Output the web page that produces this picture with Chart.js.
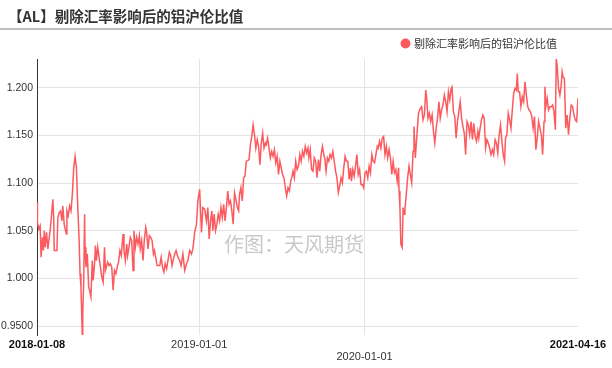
<!DOCTYPE html>
<html>
<head>
<meta charset="utf-8">
<script src="https://cdn.jsdelivr.net/npm/chart.js@4.4.1/dist/chart.umd.min.js"></script>
<style>
  html, body { margin: 0; padding: 0; background: #fff; }
  #wrap { width: 612px; height: 368px; }
</style>
</head>
<body>
<div id="wrap"><canvas id="alChart" width="612" height="368"></canvas></div>
<script>
// 日期偏移（自 2018-01-08 起的天数）与比值
const START_DATE = "2018-01-08";
const dayOffsets = [
  0, 1, 4, 7, 9, 12, 14, 16, 18, 21, 24, 27, 29, 31, 35, 37, 38, 44, 46, 49,
  52, 55, 57, 60, 63, 65, 66, 69, 72, 75, 78, 81, 84, 87, 90, 93, 95, 97, 100, 101,
  103, 105, 106, 108, 111, 114, 116, 119, 122, 124, 127, 129, 131, 134, 137, 140, 143, 146, 149, 151,
  153, 156, 159, 162, 165, 168, 171, 174, 177, 180, 183, 186, 188, 190, 192, 195, 198, 200, 203, 206,
  209, 212, 214, 217, 220, 223, 226, 228, 231, 234, 237, 240, 242, 245, 248, 251, 254, 257, 259, 262,
  265, 271, 274, 277, 280, 283, 286, 289, 292, 295, 298, 301, 304, 307, 311, 315, 318, 322, 326, 330,
  333, 337, 341, 344, 348, 352, 355, 359, 363, 366, 370, 374, 377, 380, 383, 386, 388, 391, 394, 397,
  400, 403, 406, 409, 412, 415, 418, 421, 424, 427, 430, 433, 436, 439, 442, 445, 447, 450, 453, 456,
  459, 462, 465, 468, 471, 474, 477, 480, 483, 486, 489, 492, 495, 498, 501, 504, 506, 509, 512, 515,
  518, 521, 524, 527, 530, 533, 536, 539, 542, 545, 548, 551, 554, 557, 560, 563, 565, 568, 571, 574,
  577, 580, 583, 586, 589, 592, 595, 598, 600, 603, 606, 609, 612, 615, 618, 621, 624, 627, 630, 633,
  635, 638, 641, 644, 647, 650, 653, 656, 659, 662, 665, 668, 671, 674, 677, 680, 683, 686, 689, 692,
  694, 697, 700, 703, 706, 709, 712, 715, 718, 721, 724, 727, 730, 733, 736, 739, 742, 745, 748, 751,
  753, 756, 759, 762, 765, 768, 771, 774, 777, 780, 783, 786, 789, 792, 795, 798, 799, 801, 803, 806,
  808, 810, 812, 815, 818, 821, 824, 827, 830, 832, 835, 838, 842, 846, 849, 852, 855, 858, 860, 863,
  866, 869, 872, 875, 878, 881, 884, 887, 890, 893, 896, 899, 902, 905, 908, 911, 914, 916, 919, 922,
  925, 928, 931, 934, 937, 940, 943, 946, 949, 952, 955, 958, 961, 964, 967, 970, 973, 975, 978, 981,
  984, 987, 990, 993, 996, 999, 1002, 1005, 1008, 1011, 1014, 1017, 1020, 1023, 1026, 1029, 1032, 1034, 1037, 1040,
  1043, 1046, 1049, 1052, 1055, 1058, 1060, 1062, 1065, 1068, 1071, 1074, 1077, 1080, 1083, 1086, 1089, 1092, 1095, 1098,
  1101, 1104, 1107, 1110, 1113, 1116, 1119, 1121, 1123, 1126, 1129, 1132, 1135, 1138, 1141, 1144, 1146, 1148, 1151, 1154,
  1157, 1159, 1161, 1164, 1167, 1170, 1173, 1176, 1179, 1182, 1185, 1188, 1191, 1194
];
const ratio = [
  1.0795, 1.0587, 1.0517, 1.0552, 1.0222, 1.0431, 1.0292, 1.0500, 1.0326, 1.0483, 1.0309, 1.0431, 1.0500, 1.0604, 1.0830, 1.0604, 1.0292, 1.0292, 1.0639, 1.0691,
  1.0708, 1.0604, 1.0760, 1.0569, 1.0500, 1.0465, 1.0708, 1.0656, 1.0760, 1.0708, 1.0882, 1.1160, 1.1281, 1.1160, 1.0743, 1.0396, 1.0049, 0.9910, 0.9406, 0.9632,
  0.9944, 1.0674, 1.0326, 1.0118, 1.0257, 0.9910, 0.9875, 0.9806, 1.0187, 0.9979, 1.0153, 1.0344, 1.0187, 1.0326, 1.0222, 1.0118, 1.0014, 0.9962, 1.0326, 1.0083,
  1.0118, 1.0170, 1.0135, 1.0153, 1.0118, 0.9875, 1.0083, 1.0049, 1.0118, 1.0170, 1.0292, 1.0240, 1.0361, 1.0465, 1.0292, 1.0187, 1.0361, 1.0240, 1.0326, 1.0431,
  1.0396, 1.0083, 1.0500, 1.0326, 1.0431, 1.0361, 1.0448, 1.0309, 1.0396, 1.0187, 1.0413, 1.0535, 1.0483, 1.0309, 1.0448, 1.0431, 1.0396, 1.0257, 1.0292, 1.0222,
  1.0135, 1.0135, 1.0222, 1.0118, 1.0066, 1.0153, 1.0101, 1.0187, 1.0274, 1.0240, 1.0135, 1.0200, 1.0257, 1.0292, 1.0222, 1.0188, 1.0135, 1.0257, 1.0083, 1.0153,
  1.0188, 1.0292, 1.0257, 1.0309, 1.0483, 1.0569, 1.0813, 1.0934, 1.0483, 1.0743, 1.0726, 1.0604, 1.0743, 1.0413, 1.0604, 1.0708, 1.0500, 1.0674, 1.0500, 1.0569,
  1.0674, 1.0604, 1.0743, 1.0639, 1.0778, 1.0604, 1.0743, 1.0917, 1.0778, 1.0813, 1.0708, 1.0569, 1.0899, 1.0830, 1.0743, 1.0708, 1.0882, 1.0951, 1.0813, 1.1056,
  1.1073, 1.1229, 1.1236, 1.1247, 1.1403, 1.1490, 1.1611, 1.1507, 1.1368, 1.1455, 1.1385, 1.1194, 1.1420, 1.1524, 1.1368, 1.1420, 1.1403, 1.1472, 1.1368, 1.1264,
  1.1333, 1.1281, 1.1351, 1.1212, 1.1281, 1.1090, 1.1229, 1.1160, 1.1090, 1.1056, 1.0951, 1.0865, 1.0951, 1.0917, 1.1021, 1.1073, 1.1125, 1.1056, 1.1229, 1.1142,
  1.1177, 1.1299, 1.1229, 1.1333, 1.1281, 1.1385, 1.1316, 1.1368, 1.1264, 1.1351, 1.1142, 1.1125, 1.1264, 1.1229, 1.1056, 1.1247, 1.1125, 1.1299, 1.1385, 1.1299,
  1.1264, 1.1125, 1.1264, 1.1229, 1.1299, 1.1264, 1.1333, 1.1229, 1.1125, 1.1056, 1.0899, 1.0969, 1.1056, 1.1003, 1.1160, 1.1281, 1.1229, 1.1229, 1.1038, 1.1160,
  1.1021, 1.1142, 1.1073, 1.1177, 1.1299, 1.1090, 1.1142, 1.0986, 1.0986, 1.0951, 1.1108, 1.1125, 1.1056, 1.1177, 1.1108, 1.1299, 1.1229, 1.1212, 1.1299, 1.1385,
  1.1368, 1.1438, 1.1368, 1.1472, 1.1490, 1.1299, 1.1385, 1.1264, 1.1351, 1.1264, 1.1090, 1.1229, 1.1108, 1.1142, 1.1021, 1.1160, 1.0917, 1.0743, 1.0361, 1.0326,
  1.0743, 1.0674, 1.0726, 1.0882, 1.1056, 1.1177, 1.1090, 1.1003, 1.1333, 1.1594, 1.1264, 1.1472, 1.1733, 1.1785, 1.1802, 1.1663, 1.1715, 1.1976, 1.1889, 1.1681,
  1.1733, 1.1646, 1.1715, 1.1542, 1.1420, 1.1576, 1.1681, 1.1854, 1.1681, 1.1767, 1.1819, 1.1924, 1.1854, 1.1750, 1.1958, 1.1872, 1.1993, 1.2010, 1.1750, 1.1698,
  1.1472, 1.1646, 1.1750, 1.1854, 1.1681, 1.1594, 1.1524, 1.1299, 1.1646, 1.1611, 1.1507, 1.1646, 1.1455, 1.1628, 1.1490, 1.1438, 1.1542, 1.1472, 1.1576, 1.1663,
  1.1715, 1.1681, 1.1368, 1.1455, 1.1420, 1.1368, 1.1299, 1.1351, 1.1299, 1.1455, 1.1420, 1.1316, 1.1507, 1.1611, 1.1438, 1.1299, 1.1229, 1.1472, 1.1507, 1.1733,
  1.1663, 1.1576, 1.1767, 1.1941, 1.1993, 1.1976, 1.2149, 1.1958, 1.1958, 1.1802, 1.1906, 1.1854, 1.2063, 1.1924, 1.1802, 1.1767, 1.1750, 1.1698, 1.1576, 1.1698,
  1.1351, 1.1472, 1.1646, 1.1576, 1.1507, 1.1299, 1.1646, 1.2010, 1.1802, 1.1889, 1.1767, 1.1802, 1.1802, 1.1819, 1.1750, 1.1559, 1.2302, 1.2236, 1.1993, 1.1924,
  1.2028, 1.2167, 1.2115, 1.2097, 1.1576, 1.1715, 1.1507, 1.1681, 1.1819, 1.1802, 1.1715, 1.1663, 1.1646, 1.1889
];

// 坐标轴刻度
const xTickDays = [0, 358, 723, 1194];
const xTickLabels = ["2018-01-08", "2019-01-01", "2020-01-01", "2021-04-16"];
const yTickValues = [0.95, 1.0, 1.05, 1.1, 1.15, 1.2];
const yTickLabels = ["0.9500", "1.000", "1.050", "1.100", "1.150", "1.200"];
const Y_MIN = 0.9406;
const Y_MAX = 1.2302;

const TITLE = "【AL】剔除汇率影响后的铝沪伦比值";
const SERIES_NAME = "剔除汇率影响后的铝沪伦比值";
const WATERMARK = "作图：天风期货";
const LINE_COLOR = "#fb5a5f";
const FONT = "'Liberation Sans', 'Noto Sans CJK SC', sans-serif";

// 标题、分隔线、水印
const decorPlugin = {
  id: "decor",
  afterLayout(chart) {
    // 图例向左收一点，和原图对齐
    if (chart.legend) chart.legend.right = 565;
  },
  beforeDatasetsDraw(chart) {
    const ctx = chart.ctx;
    ctx.save();
    ctx.font = "20px 'Noto Sans CJK SC', sans-serif";
    ctx.fillStyle = "#c9c9c9";
    ctx.textAlign = "center";
    ctx.textBaseline = "middle";
    ctx.fillText(WATERMARK, 294, 244);
    ctx.restore();
  },
  afterDraw(chart) {
    const ctx = chart.ctx;
    ctx.save();
    ctx.font = "bold 14.5px 'Noto Sans CJK SC', sans-serif";
    ctx.fillStyle = "#333";
    ctx.textAlign = "left";
    ctx.textBaseline = "middle";
    ctx.fillText(TITLE, 8, 16);
    ctx.strokeStyle = "#aaaaaa";
    ctx.lineWidth = 1.5;
    ctx.beginPath();
    ctx.moveTo(0, 29);
    ctx.lineTo(chart.width, 29);
    ctx.stroke();
    ctx.restore();
  }
};

const points = dayOffsets.map((d, i) => ({ x: d, y: ratio[i] }));

new Chart(document.getElementById("alChart"), {
  type: "line",
  data: {
    datasets: [
      {
        label: SERIES_NAME,
        data: points,
        borderColor: LINE_COLOR,
        backgroundColor: LINE_COLOR,
        borderWidth: 1.5,
        pointRadius: 0,
        tension: 0,
      },
    ],
  },
  options: {
    responsive: false,
    animation: false,
    layout: { padding: { top: 30, right: 34, left: 0, bottom: 0 } },
    scales: {
      x: {
        type: "linear",
        min: 0,
        max: 1194,
        afterBuildTicks: (axis) => {
          axis.ticks = xTickDays.map((v) => ({ value: v }));
        },
        afterFit: (axis) => {
          axis.height = 33;
        },
        border: { display: false },
        grid: {
          drawTicks: false,
          color: (c) => (c.index === 1 || c.index === 2 ? "#e4e4e4" : "rgba(0,0,0,0)"),
        },
        ticks: {
          autoSkip: false,
          maxRotation: 0,
          padding: 4,
          color: (c) => (c.index === 0 || c.index === 3 ? "#111" : "#333"),
          font: (c) => ({
            family: FONT,
            size: 11,
            lineHeight: "12px",
            weight: c.index === 0 || c.index === 3 ? "bold" : "normal",
          }),
          callback: (value, index) => (index === 2 ? ["", xTickLabels[index]] : xTickLabels[index]),
        },
      },
      y: {
        min: Y_MIN,
        max: Y_MAX,
        afterBuildTicks: (axis) => {
          axis.ticks = yTickValues.map((v) => ({ value: v }));
        },
        afterFit: (axis) => {
          axis.width = 37;
        },
        border: { display: true, color: "#333", width: 1 },
        grid: { drawTicks: false, color: "#e4e4e4" },
        ticks: {
          padding: 4,
          color: "#333",
          font: { family: FONT, size: 10.5 },
          callback: (value, index) => yTickLabels[index],
        },
      },
    },
    plugins: {
      title: { display: false },
      tooltip: { enabled: false },
      legend: {
        position: "top",
        align: "end",
        labels: {
          usePointStyle: true,
          pointStyle: "circle",
          boxWidth: 6,
          boxHeight: 6,
          padding: 8,
          color: "#333",
          font: { family: "'Noto Sans CJK SC', sans-serif", size: 11 },
        },
      },
    },
  },
  plugins: [decorPlugin],
});
</script>
</body>
</html>
